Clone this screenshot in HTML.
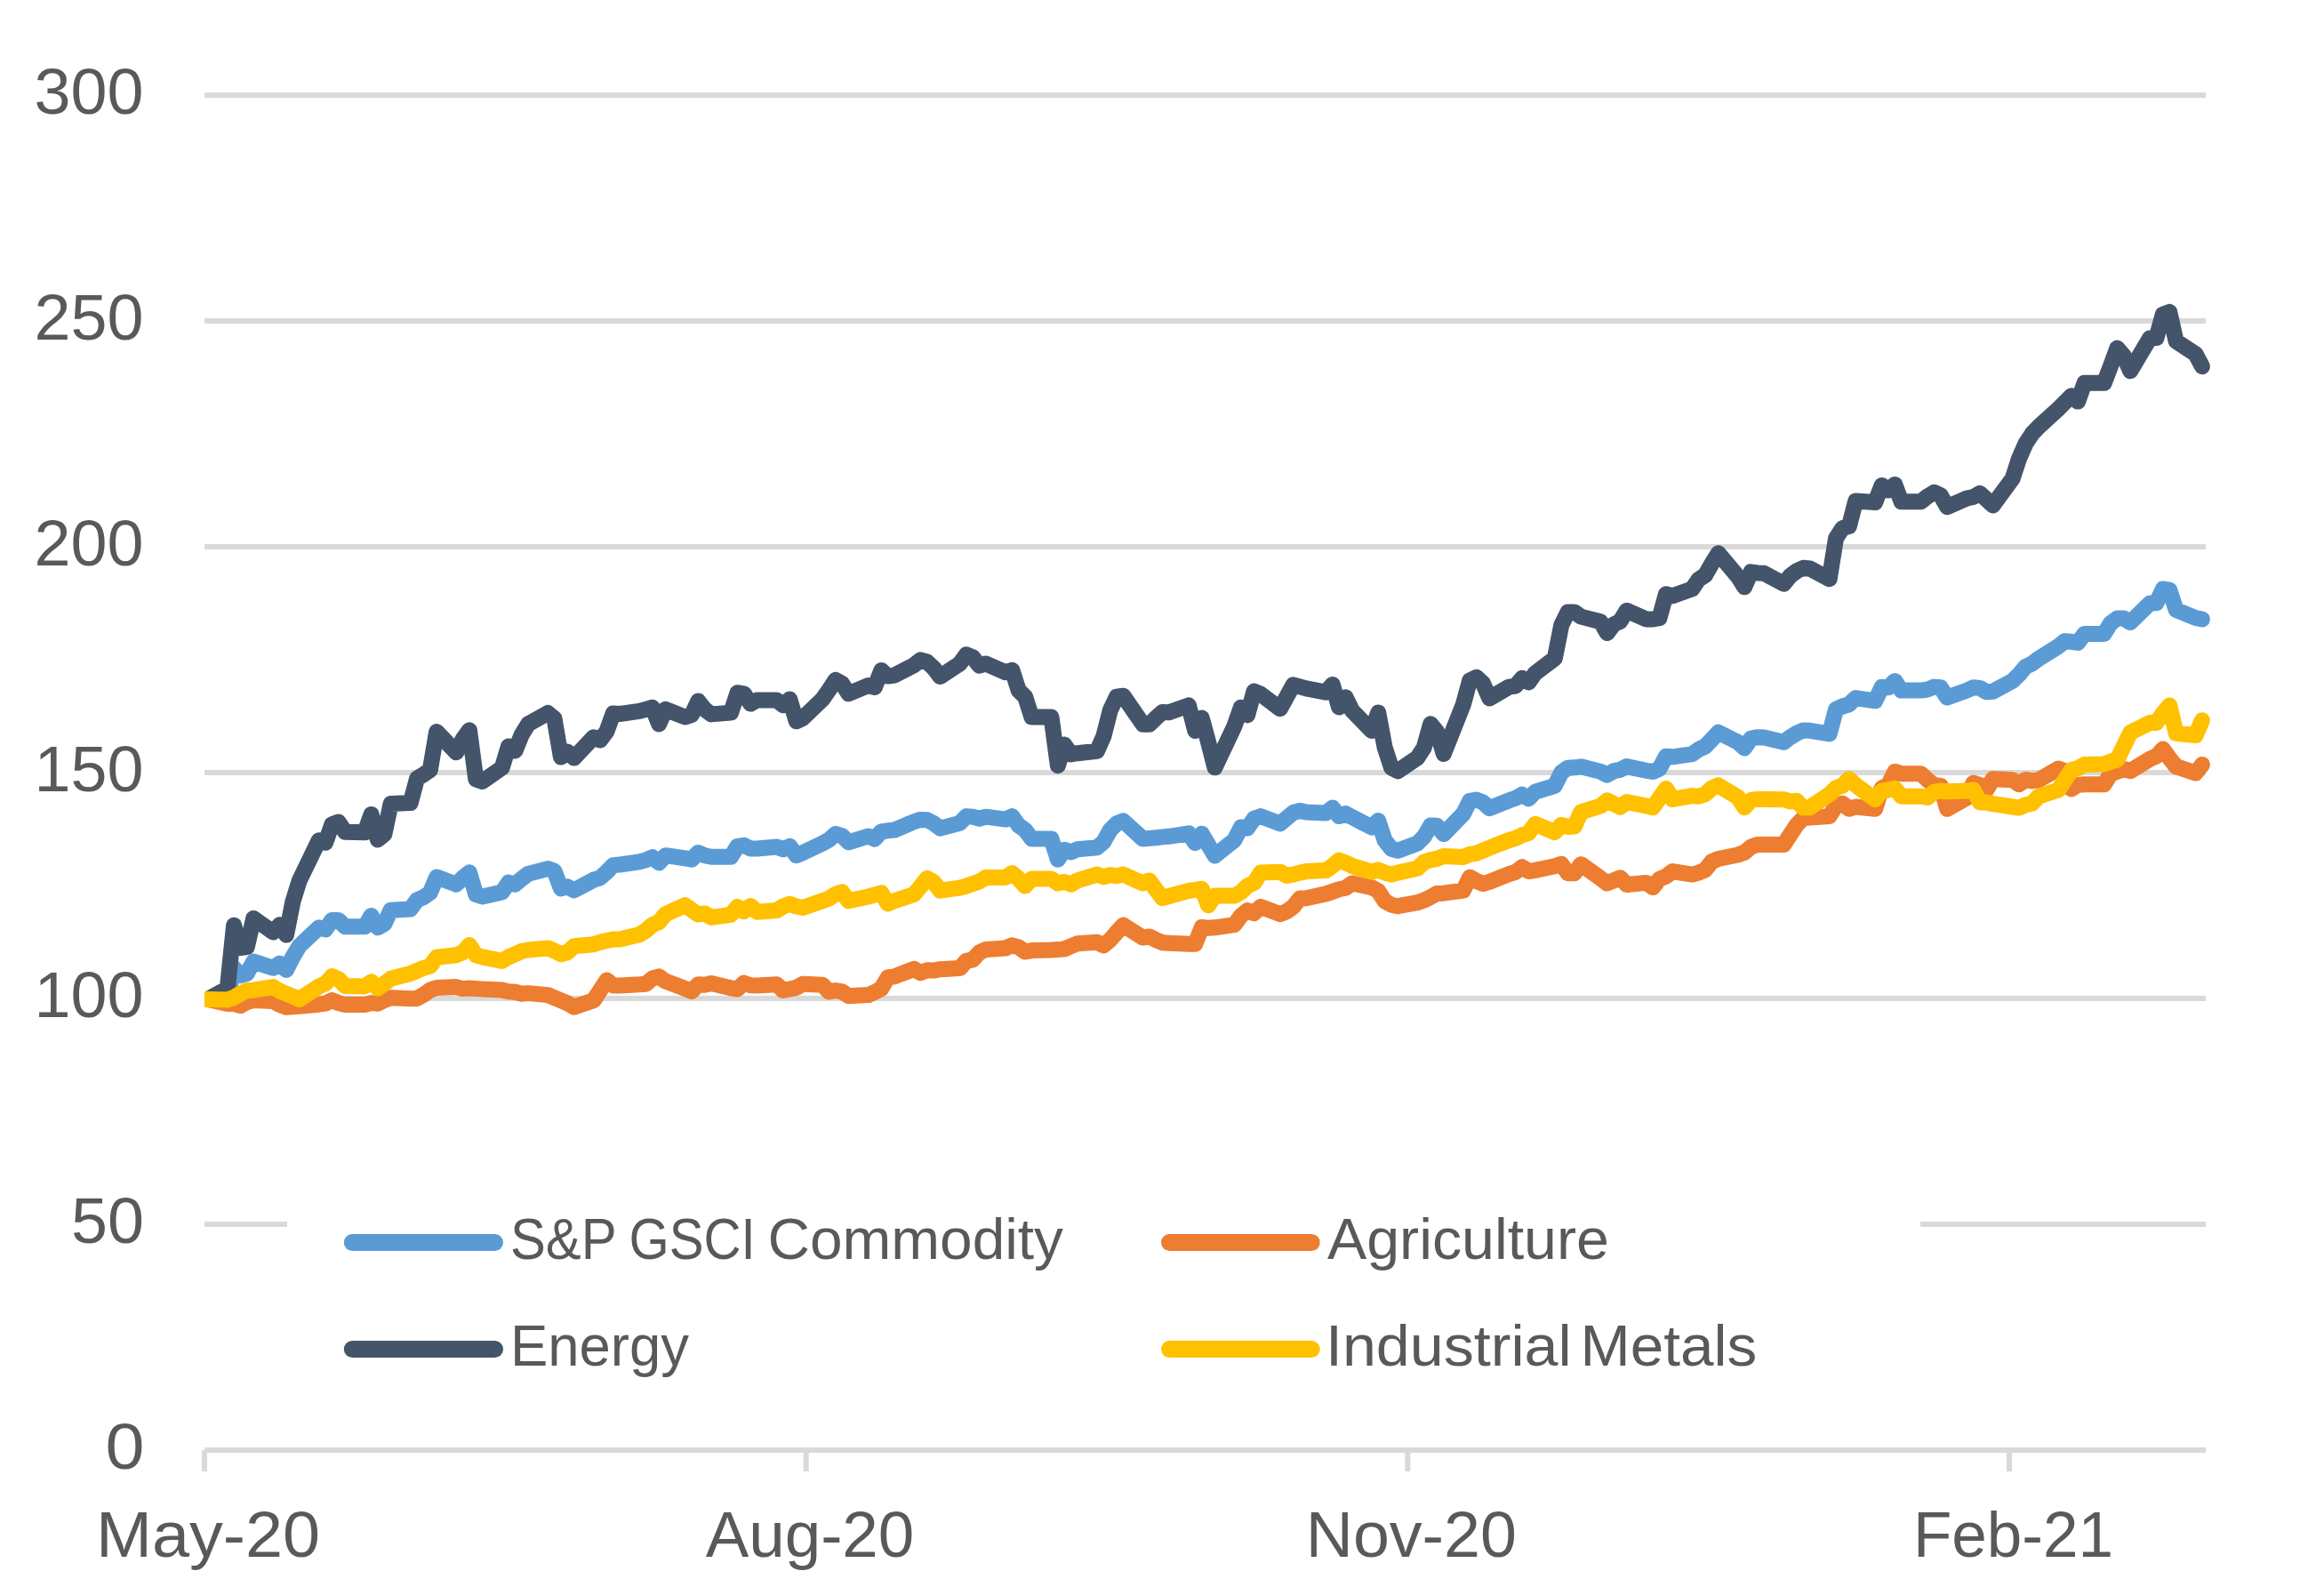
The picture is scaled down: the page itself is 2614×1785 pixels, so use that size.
<!DOCTYPE html>
<html><head><meta charset="utf-8"><title>Commodity indices</title>
<style>
html,body{margin:0;padding:0;background:#fff;}
svg{display:block;}
text{font-family:"Liberation Sans",sans-serif;fill:#595959;}
</style></head><body>
<svg width="2614" height="1785" viewBox="0 0 2614 1785">
<rect width="2614" height="1785" fill="#fff"/>
<g stroke="#D9D9D9" stroke-width="6" fill="none">
<line x1="230" y1="107" x2="2481" y2="107"/>
<line x1="230" y1="361" x2="2481" y2="361"/>
<line x1="230" y1="615" x2="2481" y2="615"/>
<line x1="230" y1="869" x2="2481" y2="869"/>
<line x1="230" y1="1123" x2="2481" y2="1123"/>
<line x1="230" y1="1377" x2="323" y2="1377"/>
<line x1="2160" y1="1377" x2="2481" y2="1377"/>
<line x1="230" y1="1631" x2="2481" y2="1631"/>
<line x1="230" y1="1631" x2="230" y2="1655"/>
<line x1="906.7" y1="1631" x2="906.7" y2="1655"/>
<line x1="1583.3" y1="1631" x2="1583.3" y2="1655"/>
<line x1="2260" y1="1631" x2="2260" y2="1655"/>
</g>
<g font-size="72" text-anchor="end">
<text x="161.6" y="127.9" textLength="123" lengthAdjust="spacingAndGlyphs">300</text>
<text x="161.6" y="381.9" textLength="123" lengthAdjust="spacingAndGlyphs">250</text>
<text x="161.6" y="635.9" textLength="123" lengthAdjust="spacingAndGlyphs">200</text>
<text x="161.6" y="889.9" textLength="123" lengthAdjust="spacingAndGlyphs">150</text>
<text x="161.6" y="1143.9" textLength="123" lengthAdjust="spacingAndGlyphs">100</text>
<text x="162" y="1397.9" textLength="82" lengthAdjust="spacingAndGlyphs">50</text>
<text x="162.5" y="1651.9" textLength="44" lengthAdjust="spacingAndGlyphs">0</text>
</g>
<g font-size="72" text-anchor="middle">
<text x="234" y="1750.7" textLength="252" lengthAdjust="spacingAndGlyphs">May-20</text>
<text x="911" y="1750.7" textLength="234.6" lengthAdjust="spacingAndGlyphs">Aug-20</text>
<text x="1587.3" y="1750.7" textLength="237" lengthAdjust="spacingAndGlyphs">Nov-20</text>
<text x="2264.4" y="1750.7" textLength="225" lengthAdjust="spacingAndGlyphs">Feb-21</text>
</g>
<clipPath id="plot"><rect x="230" y="90" width="2255.8" height="1545"/></clipPath>
<g clip-path="url(#plot)">
<polyline fill="none" stroke="#5B9BD5" stroke-width="18" stroke-linejoin="round" stroke-linecap="round" points="225.7,1123.9 233.7,1123.9 255.8,1122.3 263.1,1088.8 270.5,1097.1 277.8,1095.0 285.2,1081.6 307.2,1088.8 314.6,1083.6 322.0,1090.9 329.3,1076.4 336.7,1064.0 358.7,1043.3 366.1,1045.4 373.4,1035.0 380.8,1035.0 388.2,1042.3 410.2,1042.3 417.6,1029.9 424.9,1043.3 432.3,1039.2 439.6,1023.7 461.7,1022.6 469.1,1012.3 476.4,1009.2 483.8,1004.0 491.1,986.5 513.2,994.7 520.5,987.5 527.9,981.3 535.3,1006.1 542.6,1008.6 564.7,1003.4 572.0,992.7 579.4,994.7 586.7,988.5 594.1,982.9 616.2,977.1 623.5,979.7 630.9,999.4 638.2,997.3 645.6,1001.4 667.6,989.7 675.0,987.4 682.4,980.8 689.7,973.1 697.1,972.5 719.1,969.4 726.5,967.3 733.8,964.2 741.2,970.4 748.5,962.2 770.6,965.3 778.0,966.7 785.3,959.1 792.7,962.2 800.0,963.8 822.1,963.8 829.5,951.8 836.8,950.8 844.2,954.5 851.5,954.5 873.6,952.5 880.9,955.3 888.3,951.8 895.7,962.2 903.0,959.1 925.1,948.7 932.4,944.6 939.8,938.0 947.1,940.1 954.5,947.3 976.6,940.5 983.9,943.6 991.3,935.3 998.6,934.3 1006.0,933.6 1028.0,924.3 1035.4,921.9 1042.8,922.3 1050.1,926.0 1057.5,931.6 1079.5,925.9 1086.9,918.1 1094.2,918.7 1101.6,920.8 1108.9,918.7 1131.0,921.6 1138.4,918.1 1145.7,928.4 1153.1,933.6 1160.4,943.5 1182.5,943.5 1189.9,966.7 1197.2,955.7 1204.6,958.4 1211.9,955.3 1234.0,953.2 1241.3,947.0 1248.7,933.6 1256.0,926.4 1263.4,923.3 1285.5,943.5 1292.8,942.9 1300.2,942.3 1307.5,941.4 1314.9,940.8 1337.0,937.3 1344.3,948.1 1351.7,937.7 1359.0,950.1 1366.4,962.5 1388.4,945.0 1395.8,930.5 1403.1,931.5 1410.5,920.8 1417.9,918.1 1439.9,926.4 1447.3,920.2 1454.6,914.0 1462.0,911.9 1469.3,913.5 1491.4,914.4 1498.8,908.4 1506.1,918.1 1513.5,915.0 1520.8,919.1 1542.9,930.5 1550.2,923.0 1557.6,945.4 1565.0,954.7 1572.3,956.7 1594.4,948.5 1601.7,941.2 1609.1,928.4 1616.4,928.8 1623.8,938.1 1645.9,915.4 1653.2,900.9 1660.6,899.5 1667.9,902.4 1675.3,909.2 1697.3,900.3 1704.7,897.8 1712.1,893.7 1719.4,898.4 1726.8,890.6 1748.8,883.8 1756.2,868.9 1763.5,863.7 1770.9,863.3 1778.3,862.3 1800.3,867.9 1807.7,871.6 1815.0,867.2 1822.4,865.8 1829.7,862.1 1851.8,866.8 1859.2,867.9 1866.5,864.8 1873.9,850.7 1881.2,851.3 1903.3,848.2 1910.6,843.0 1918.0,839.5 1925.4,831.7 1932.7,823.8 1954.8,834.8 1962.1,841.4 1969.5,830.6 1976.8,829.2 1984.2,829.6 2006.3,834.8 2013.6,829.2 2021.0,824.7 2028.3,821.4 2035.7,821.8 2057.7,825.4 2065.1,797.9 2072.4,794.5 2079.8,792.3 2087.2,785.1 2109.2,788.3 2116.6,772.8 2123.9,773.3 2131.3,765.9 2138.6,776.6 2160.7,776.6 2168.1,775.5 2175.4,772.6 2182.8,773.3 2190.1,784.5 2212.2,776.6 2219.6,773.3 2226.9,773.9 2234.3,778.2 2241.6,777.7 2263.7,765.9 2271.0,758.7 2278.4,749.8 2285.7,746.4 2293.1,740.8 2315.2,727.0 2322.5,721.1 2329.9,721.8 2337.2,722.9 2344.6,712.9 2366.7,712.9 2374.0,701.0 2381.4,695.6 2388.7,695.4 2396.1,700.1 2418.1,678.6 2425.5,678.2 2432.8,662.5 2440.2,663.6 2447.6,686.0 2469.6,695.0 2477.0,696.5"/>
<polyline fill="none" stroke="#ED7D31" stroke-width="18" stroke-linejoin="round" stroke-linecap="round" points="225.7,1123.9 233.7,1123.9 255.8,1129.1 263.1,1129.1 270.5,1131.2 277.8,1127.0 285.2,1125.0 307.2,1126.0 314.6,1130.1 322.0,1132.8 329.3,1132.2 336.7,1131.8 358.7,1129.7 366.1,1128.7 373.4,1125.0 380.8,1128.1 388.2,1130.1 410.2,1130.1 417.6,1128.1 424.9,1128.7 432.3,1125.0 439.6,1122.3 461.7,1123.3 469.1,1122.9 476.4,1118.8 483.8,1113.6 491.1,1111.1 513.2,1110.1 520.5,1112.1 527.9,1111.5 535.3,1111.9 542.6,1112.6 564.7,1113.6 572.0,1115.2 579.4,1115.7 586.7,1117.7 594.1,1117.1 616.2,1119.1 623.5,1122.2 630.9,1125.3 638.2,1128.4 645.6,1132.6 667.6,1125.3 675.0,1114.0 682.4,1102.6 689.7,1108.4 697.1,1108.4 719.1,1107.3 726.5,1106.7 733.8,1100.5 741.2,1098.4 748.5,1103.6 770.6,1111.9 778.0,1115.0 785.3,1107.3 792.7,1107.8 800.0,1106.1 822.1,1111.3 829.5,1112.5 836.8,1105.7 844.2,1108.2 851.5,1108.4 873.6,1107.3 880.9,1114.0 888.3,1112.5 895.7,1110.9 903.0,1106.7 925.1,1107.8 932.4,1115.4 939.8,1114.0 947.1,1115.4 954.5,1120.2 976.6,1119.1 983.9,1116.0 991.3,1111.9 998.6,1099.5 1006.0,1098.4 1028.0,1089.8 1035.4,1094.3 1042.8,1091.2 1050.1,1091.6 1057.5,1090.2 1079.5,1089.1 1086.9,1080.9 1094.2,1079.4 1101.6,1071.2 1108.9,1067.9 1131.0,1066.4 1138.4,1063.3 1145.7,1065.4 1153.1,1070.5 1160.4,1069.1 1182.5,1068.5 1189.9,1068.1 1197.2,1067.4 1204.6,1064.3 1211.9,1061.2 1234.0,1059.8 1241.3,1063.3 1248.7,1057.1 1256.0,1048.8 1263.4,1040.6 1285.5,1054.6 1292.8,1053.4 1300.2,1057.1 1307.5,1060.2 1314.9,1060.8 1337.0,1061.7 1344.3,1061.7 1351.7,1043.0 1359.0,1043.7 1366.4,1043.3 1388.4,1040.2 1395.8,1030.2 1403.1,1024.0 1410.5,1027.1 1417.9,1019.9 1439.9,1028.2 1447.3,1025.1 1454.6,1019.9 1462.0,1010.6 1469.3,1010.2 1491.4,1005.4 1498.8,1002.9 1506.1,1000.3 1513.5,998.8 1520.8,993.4 1542.9,998.2 1550.2,1002.2 1557.6,1013.6 1565.0,1017.7 1572.3,1019.2 1594.4,1015.2 1601.7,1012.6 1609.1,1009.0 1616.4,1004.9 1623.8,1004.7 1645.9,1001.6 1653.2,986.7 1660.6,990.9 1667.9,994.0 1675.3,991.9 1697.3,983.2 1704.7,980.9 1712.1,975.3 1719.4,980.1 1726.8,978.9 1748.8,974.3 1756.2,971.8 1763.5,982.2 1770.9,982.2 1778.3,972.2 1800.3,987.8 1807.7,993.5 1815.0,990.4 1822.4,987.3 1829.7,995.0 1851.8,992.9 1859.2,998.1 1866.5,988.8 1873.9,985.7 1881.2,980.1 1903.3,983.6 1910.6,981.6 1918.0,978.4 1925.4,969.1 1932.7,966.0 1954.8,961.5 1962.1,958.8 1969.5,952.6 1976.8,950.1 1984.2,950.1 2006.3,950.0 2013.6,938.8 2021.0,927.7 2028.3,920.3 2035.7,919.4 2057.7,918.0 2065.1,906.4 2072.4,903.7 2079.8,909.8 2087.2,907.5 2109.2,909.8 2116.6,886.3 2123.9,882.9 2131.3,867.9 2138.6,870.2 2160.7,870.2 2168.1,877.3 2175.4,882.9 2182.8,884.0 2190.1,909.8 2212.2,897.5 2219.6,880.7 2226.9,882.9 2234.3,888.5 2241.6,876.2 2263.7,877.3 2271.0,882.2 2278.4,876.9 2285.7,878.4 2293.1,877.3 2315.2,864.6 2322.5,867.2 2329.9,887.4 2337.2,882.9 2344.6,882.2 2366.7,882.2 2374.0,870.6 2381.4,867.9 2388.7,865.0 2396.1,867.2 2418.1,853.8 2425.5,850.5 2432.8,842.6 2440.2,852.7 2447.6,862.1 2469.6,869.5 2477.0,859.9"/>
<polyline fill="none" stroke="#44546A" stroke-width="18" stroke-linejoin="round" stroke-linecap="round" points="225.7,1123.9 233.7,1123.9 255.8,1111.9 263.1,1040.8 270.5,1066.0 277.8,1065.0 285.2,1033.0 307.2,1048.5 314.6,1040.2 322.0,1051.6 329.3,1014.4 336.7,990.6 358.7,945.2 366.1,947.8 373.4,927.2 380.8,924.6 388.2,935.8 410.2,936.3 417.6,916.0 424.9,944.4 432.3,938.3 439.6,903.9 461.7,903.1 469.1,875.5 476.4,871.2 483.8,866.1 491.1,823.0 513.2,846.3 520.5,831.6 527.9,821.3 535.3,876.4 542.6,879.0 564.7,863.5 572.0,839.4 579.4,844.5 586.7,826.5 594.1,814.4 616.2,802.0 623.5,808.2 630.9,851.6 638.2,845.4 645.6,852.6 667.6,829.3 675.0,832.6 682.4,822.6 689.7,802.4 697.1,803.0 719.1,799.9 726.5,797.8 733.8,795.8 741.2,814.4 748.5,797.8 770.6,806.5 778.0,804.0 785.3,788.5 792.7,797.8 800.0,803.4 822.1,801.6 829.5,779.2 836.8,780.3 844.2,791.6 851.5,787.5 873.6,787.5 880.9,793.3 888.3,786.5 895.7,811.3 903.0,807.8 925.1,786.5 932.4,776.1 939.8,764.8 947.1,768.9 954.5,780.3 976.6,771.0 983.9,773.0 991.3,754.0 998.6,760.6 1006.0,759.6 1028.0,748.2 1035.4,742.4 1042.8,744.5 1050.1,751.3 1057.5,761.0 1079.5,746.5 1086.9,736.2 1094.2,739.3 1101.6,748.6 1108.9,746.5 1131.0,756.2 1138.4,753.7 1145.7,776.5 1153.1,783.7 1160.4,806.5 1182.5,806.5 1189.9,861.2 1197.2,837.5 1204.6,848.4 1211.9,847.2 1234.0,844.7 1241.3,828.2 1248.7,799.2 1256.0,783.7 1263.4,782.7 1285.5,814.7 1292.8,814.7 1300.2,807.5 1307.5,800.9 1314.9,801.3 1337.0,793.4 1344.3,822.0 1351.7,807.5 1359.0,834.4 1366.4,863.3 1388.4,816.8 1395.8,795.7 1403.1,804.4 1410.5,777.5 1417.9,780.6 1439.9,797.2 1447.3,783.7 1454.6,770.3 1462.0,772.4 1469.3,774.4 1491.4,778.6 1498.8,769.9 1506.1,795.5 1513.5,784.3 1520.8,799.2 1542.9,822.0 1550.2,801.5 1557.6,840.8 1565.0,863.5 1572.3,867.3 1594.4,852.2 1601.7,840.8 1609.1,814.3 1616.4,823.2 1623.8,848.0 1645.9,792.2 1653.2,765.3 1660.6,761.8 1667.9,768.4 1675.3,785.4 1697.3,772.6 1704.7,771.6 1712.1,762.7 1719.4,767.4 1726.8,757.1 1748.8,740.5 1756.2,703.3 1763.5,688.4 1770.9,688.4 1778.3,693.6 1800.3,699.2 1807.7,712.0 1815.0,702.3 1822.4,698.8 1829.7,686.8 1851.8,696.5 1859.2,696.5 1866.5,695.1 1873.9,668.2 1881.2,670.3 1903.3,662.4 1910.6,651.7 1918.0,646.9 1925.4,634.1 1932.7,622.3 1954.8,648.6 1962.1,660.3 1969.5,643.4 1976.8,644.4 1984.2,644.8 2006.3,656.7 2013.6,647.8 2021.0,642.2 2028.3,638.8 2035.7,639.5 2057.7,651.2 2065.1,605.3 2072.4,594.1 2079.8,591.9 2087.2,563.4 2109.2,565.0 2116.6,546.0 2123.9,551.6 2131.3,544.9 2138.6,564.3 2160.7,564.3 2168.1,558.3 2175.4,553.8 2182.8,557.2 2190.1,570.2 2212.2,560.5 2219.6,559.0 2226.9,554.9 2234.3,561.7 2241.6,568.4 2263.7,538.2 2271.0,515.8 2278.4,499.0 2285.7,487.8 2293.1,480.0 2315.2,459.8 2322.5,452.5 2329.9,445.3 2337.2,451.6 2344.6,430.8 2366.7,430.8 2374.0,411.7 2381.4,391.6 2388.7,400.1 2396.1,417.3 2418.1,380.4 2425.5,380.0 2432.8,353.6 2440.2,350.9 2447.6,383.8 2469.6,398.3 2477.0,412.2"/>
<polyline fill="none" stroke="#FFC000" stroke-width="18" stroke-linejoin="round" stroke-linecap="round" points="225.7,1123.9 233.7,1123.9 255.8,1124.5 263.1,1121.9 270.5,1117.7 277.8,1114.2 285.2,1113.6 307.2,1110.1 314.6,1114.6 322.0,1117.7 329.3,1120.8 336.7,1123.9 358.7,1109.5 366.1,1106.4 373.4,1098.1 380.8,1101.2 388.2,1109.0 410.2,1109.5 417.6,1104.3 424.9,1111.5 432.3,1106.4 439.6,1100.8 461.7,1095.0 469.1,1091.9 476.4,1088.8 483.8,1086.7 491.1,1076.8 513.2,1074.3 520.5,1071.2 527.9,1062.9 535.3,1074.3 542.6,1076.4 564.7,1080.9 572.0,1076.4 579.4,1073.3 586.7,1069.8 594.1,1068.5 616.2,1066.4 623.5,1069.5 630.9,1073.2 638.2,1071.2 645.6,1064.3 667.6,1062.3 675.0,1059.8 682.4,1058.1 689.7,1056.5 697.1,1056.5 719.1,1051.3 726.5,1046.8 733.8,1040.2 741.2,1037.1 748.5,1028.2 770.6,1018.2 778.0,1023.6 785.3,1028.6 792.7,1027.5 800.0,1031.9 822.1,1028.8 829.5,1019.9 836.8,1025.1 844.2,1018.9 851.5,1025.7 873.6,1024.0 880.9,1019.5 888.3,1016.8 895.7,1019.5 903.0,1020.9 925.1,1013.3 932.4,1010.6 939.8,1005.8 947.1,1003.4 954.5,1013.3 976.6,1008.5 983.9,1006.5 991.3,1004.4 998.6,1016.4 1006.0,1013.3 1028.0,1006.0 1035.4,997.2 1042.8,987.9 1050.1,992.0 1057.5,1001.7 1079.5,998.7 1086.9,996.6 1094.2,994.0 1101.6,991.5 1108.9,986.9 1131.0,986.9 1138.4,982.2 1145.7,988.4 1153.1,996.6 1160.4,988.4 1182.5,988.4 1189.9,993.5 1197.2,991.9 1204.6,994.6 1211.9,990.4 1234.0,983.6 1241.3,986.3 1248.7,984.2 1256.0,985.3 1263.4,983.6 1285.5,993.5 1292.8,990.4 1300.2,1000.8 1307.5,1010.1 1314.9,1008.0 1337.0,1001.8 1344.3,1000.8 1351.7,999.7 1359.0,1018.3 1366.4,1007.6 1388.4,1007.6 1395.8,1003.5 1403.1,996.4 1410.5,993.1 1417.9,981.6 1439.9,980.7 1447.3,984.9 1454.6,983.6 1462.0,981.6 1469.3,980.1 1491.4,979.1 1498.8,973.9 1506.1,967.7 1513.5,970.4 1520.8,973.9 1542.9,980.7 1550.2,978.4 1557.6,981.6 1565.0,983.6 1572.3,981.6 1594.4,976.8 1601.7,969.8 1609.1,967.1 1616.4,966.0 1623.8,962.9 1645.9,964.0 1653.2,960.9 1660.6,959.8 1667.9,956.7 1675.3,953.6 1697.3,945.0 1704.7,942.9 1712.1,939.2 1719.4,937.1 1726.8,926.8 1748.8,936.1 1756.2,927.8 1763.5,929.9 1770.9,929.5 1778.3,913.3 1800.3,906.5 1807.7,900.3 1815.0,904.0 1822.4,907.8 1829.7,902.0 1851.8,906.5 1859.2,908.2 1866.5,897.8 1873.9,887.1 1881.2,898.9 1903.3,895.1 1910.6,895.8 1918.0,893.3 1925.4,886.5 1932.7,883.4 1954.8,896.8 1962.1,908.2 1969.5,899.9 1976.8,898.9 1984.2,898.9 2006.3,899.2 2013.6,901.5 2021.0,900.8 2028.3,908.6 2035.7,908.2 2057.7,893.4 2065.1,886.3 2072.4,883.6 2079.8,876.2 2087.2,882.9 2109.2,899.2 2116.6,889.6 2123.9,888.5 2131.3,886.7 2138.6,895.7 2160.7,895.7 2168.1,897.0 2175.4,890.7 2182.8,889.6 2190.1,890.3 2212.2,889.6 2219.6,888.5 2226.9,902.4 2234.3,902.4 2241.6,904.2 2263.7,907.5 2271.0,908.6 2278.4,905.3 2285.7,903.7 2293.1,895.7 2315.2,888.5 2322.5,877.3 2329.9,866.1 2337.2,864.3 2344.6,859.9 2366.7,859.4 2374.0,856.7 2381.4,854.5 2388.7,839.3 2396.1,824.1 2418.1,812.9 2425.5,812.9 2432.8,802.4 2440.2,793.4 2447.6,824.7 2469.6,827.0 2477.0,810.2"/>
</g>
<g stroke-width="19" stroke-linecap="round" fill="none">
<line x1="396.3" y1="1397.5" x2="556.5" y2="1397.5" stroke="#5B9BD5"/>
<line x1="1315.5" y1="1397.5" x2="1475.2" y2="1397.5" stroke="#ED7D31"/>
<line x1="396.3" y1="1517.5" x2="556.5" y2="1517.5" stroke="#44546A"/>
<line x1="1315.5" y1="1517.5" x2="1475.2" y2="1517.5" stroke="#FFC000"/>
</g>
<g font-size="64">
<text x="574.00" y="1415.5" textLength="119.50" lengthAdjust="spacingAndGlyphs">S&amp;P</text>
<text x="707.50" y="1415.5" textLength="142.16" lengthAdjust="spacingAndGlyphs">GSCI</text>
<text x="863.50" y="1415.5" textLength="332.48" lengthAdjust="spacingAndGlyphs">Commodity</text>
<text x="1493.00" y="1415.5" textLength="316.97" lengthAdjust="spacingAndGlyphs">Agriculture</text>
<text x="574.00" y="1535.5" textLength="201.00" lengthAdjust="spacingAndGlyphs">Energy</text>
<text x="1491.00" y="1535.5" textLength="276.70" lengthAdjust="spacingAndGlyphs">Industrial</text>
<text x="1777.50" y="1535.5" textLength="198.60" lengthAdjust="spacingAndGlyphs">Metals</text>
</g>
</svg>
</body></html>
